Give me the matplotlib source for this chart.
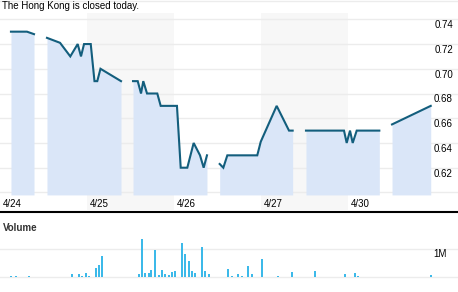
import matplotlib
matplotlib.use('Agg')
import matplotlib.pyplot as plt
from matplotlib.lines import Line2D

plt.rcParams['font.family'] = ['Liberation Sans', 'DejaVu Sans']

# time in trading days from the start of 4/24 (fraction of a day)
day_labels = ['4/24', '4/25', '4/26', '4/27', '4/30']
shaded_days = [1, 3]

seg_times = [
    [0.126, 0.310, 0.391],
    [0.540, 0.690, 0.808, 0.893, 0.931, 0.966, 1.043, 1.086, 1.118, 1.155, 1.391],
    [1.529, 1.583, 1.621, 1.647, 1.690, 1.808, 1.847, 2.034, 2.077, 2.153, 2.226,
     2.299, 2.341, 2.379],
    [2.525, 2.567, 2.613, 2.957, 2.997, 3.180, 3.322, 3.364],
    [3.517, 3.954, 3.985, 4.023, 4.054, 4.100, 4.360],
    [4.506, 4.951],
]
seg_prices = [
    [0.730, 0.730, 0.728],
    [0.725, 0.721, 0.710, 0.720, 0.710, 0.720, 0.720, 0.690, 0.690, 0.700, 0.690],
    [0.690, 0.690, 0.680, 0.690, 0.680, 0.680, 0.670, 0.670, 0.620, 0.620, 0.640,
     0.630, 0.620, 0.630],
    [0.623, 0.620, 0.630, 0.630, 0.641, 0.670, 0.650, 0.650],
    [0.650, 0.650, 0.640, 0.650, 0.640, 0.650, 0.650],
    [0.655, 0.670],
]
price_ticks = [0.62, 0.64, 0.66, 0.68, 0.70, 0.72, 0.74]

vol_times = [0.130, 0.184, 0.333, 0.824, 0.905, 0.939, 0.989, 1.023, 1.103, 1.138,
             1.169, 1.594, 1.629, 1.667, 1.709, 1.736, 1.782, 1.824, 1.859, 1.897,
             1.939, 1.974, 2.011, 2.092, 2.126, 2.172, 2.207, 2.241, 2.322, 2.356,
             2.402, 2.621, 2.667, 2.736, 2.782, 2.851, 2.897, 3.011, 3.195, 3.356,
             3.621, 3.966, 4.080, 4.115, 4.954]
vol_millions = [0.02, 0.02, 0.02, 0.10, 0.10, 0.03, 0.13, 0.03, 0.32, 0.43,
                0.75, 0.10, 1.37, 0.13, 0.13, 0.24, 0.97, 0.06, 0.24, 0.10,
                0.06, 0.17, 0.21, 1.23, 0.83, 0.57, 0.21, 0.13, 1.08, 0.21,
                0.10, 0.28, 0.03, 0.10, 0.03, 0.39, 0.10, 0.65, 0.03, 0.17,
                0.21, 0.10, 0.13, 0.03, 0.06]

W, H = 458, 292
px_per_day = 87.0
line_col = '#135e7d'
fill_col = '#dae6f8'
band_col = '#f7f7f7'
grid_col = '#ececec'
bar_col = '#3cb9e9'

fig = plt.figure(figsize=(W / 100, H / 100), dpi=100)

def px_rect(top, bottom):
    return [0, (H - bottom) / H, 1, (bottom - top) / H]

# price panel
ax = fig.add_axes(px_rect(13, 210))
ax.axis('off')
ax.set_xlim(0, W / px_per_day)
ax.set_ylim(0.5858, 0.7451)

for d in shaded_days:
    ax.axvspan(d, d + 1, color=band_col, lw=0, zorder=0)
for p in [0.60] + price_ticks:
    ax.axhline(p, color=grid_col, lw=1, zorder=1)

base = 0.598
for t, p in zip(seg_times, seg_prices):
    ax.fill_between(t, p, base, color=fill_col, lw=0, zorder=2)
    ax.plot(t, p, color=line_col, lw=1.5, zorder=3, solid_joinstyle='miter')

for p in price_ticks:
    ax.annotate(f'{p:.2f}', (453 / px_per_day, p), xytext=(0, -4.3),
                textcoords='offset points', ha='right', va='center', fontsize=7)

for i, lab in enumerate(day_labels):
    ax.text(i + 3 / px_per_day, 6 / 197, lab, transform=ax.get_xaxis_transform(),
            ha='left', va='center', fontsize=7)

# volume panel
axv = fig.add_axes(px_rect(235, 280), sharex=ax)
axv.axis('off')
axv.set_ylim(-0.12, 1.52)
axv.axhline(0, color=grid_col, lw=1, zorder=0)
axv.axhline(1, color=grid_col, lw=1, zorder=0)
axv.bar(vol_times, vol_millions, width=2 / px_per_day, color=bar_col, lw=0, zorder=2)
axv.annotate('1M', (447 / px_per_day, 1), xytext=(0, -3.6),
             textcoords='offset points', ha='right', va='center', fontsize=7)

fig.add_artist(Line2D([0, 1], [(H - 211.5) / H] * 2, color='black', lw=1.5))
fig.add_artist(Line2D([0, 1], [(H - 1) / H] * 2, color=grid_col, lw=1))
fig.text(2 / W, (H - 6) / H, 'The Hong Kong is closed today.', fontsize=7,
         va='center', ha='left')
fig.text(3 / W, (H - 228) / H, 'Volume', fontsize=7, fontweight='bold',
         color='#333333', va='center', ha='left')

fig.savefig('out.png', dpi=100)
